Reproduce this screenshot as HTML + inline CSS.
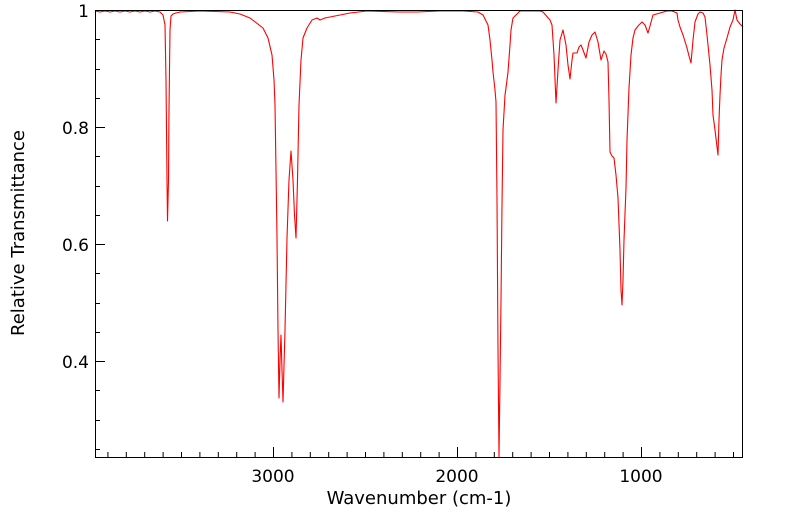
<!DOCTYPE html>
<html><head><style>
body{margin:0;background:#fff;}
svg{display:block;font-family:"DejaVu Sans","Liberation Sans",sans-serif;}
</style></head><body>
<svg width="799" height="516" viewBox="0 0 799 516">
<rect width="799" height="516" fill="#fff"/>
<polyline fill="none" stroke="#ff0000" stroke-width="1.1" stroke-linejoin="round" points="
95,11 100,12 105,11 110,12 115,11 120,12 125,11 130,12 135,11 140,12 145,11 150,12 155,11 160,12 163,15 165,25 166,80 167,180 167.5,221 168.5,180 169,110 170,30 171,16 173,14 176,13 180,12 200,11 230,12 240,14 250,18 263,28 268,38 272,55 274,80 275,105 276,170 277,238 278,330 279,398 280,360 281,335 282,370 283,402 285,330 287,238 289,180 291,151 293,180 294.5,215 296,238 297.5,180 299,105 301,60 303,38 307,28 312,20 317,18 320,20 325,18 330,17 350,13 367,11 400,12 417,12 440,11 463,11 478,12 483,15 488,25 490,40 492,60 493,72 495,90 496,102 497,200 498,350 499,457 500,380 501,300 502,205 503,130 505,95 506,88 508,72 510,45 511,30 513,18 520,11 530,11 540,11 543,12 550,20 552,25 554,55 556,103 558,70 560,40 563,30 566,45 568,65 570,79 572,60 573,53 577,53 579,47 581,45 583,50 586,58 589,42 592,35 595,32 598,42 601,60 603,54 604,51 606,54 608,62 609,100 610,152 612,156 614,158 616,175 618,198 620,250 621,290 622,305 623,280 624,240 626,188 627,140 629,88 631,55 633,38 635,30 638,26 642,22 645,25 648,33 650,26 653,15 660,13 667,11 672,11 677,13 678,20 680,27 683,35 687,48 689,56 691,63 693,40 695,22 698,14 700,12 703,13 705,17 707,35 710,65 712,90 713,115 715,130 718,155 719,120 720,95 721,75 722,60 724,48 727,38 730,27 733,20 735,10 736,15 737,20 740,24 743,27"/>
<rect x="95.5" y="10.5" width="647" height="447" stroke="#000" stroke-width="1" fill="none"/>
<g stroke="#000" stroke-width="1">
<line x1="95" y1="10.5" x2="105" y2="10.5"/>
<line x1="95" y1="127.5" x2="105" y2="127.5"/>
<line x1="95" y1="244.5" x2="105" y2="244.5"/>
<line x1="95" y1="361.5" x2="105" y2="361.5"/>
<line x1="95" y1="39.5" x2="100" y2="39.5"/>
<line x1="95" y1="69.5" x2="100" y2="69.5"/>
<line x1="95" y1="98.5" x2="100" y2="98.5"/>
<line x1="95" y1="156.5" x2="100" y2="156.5"/>
<line x1="95" y1="186.5" x2="100" y2="186.5"/>
<line x1="95" y1="215.5" x2="100" y2="215.5"/>
<line x1="95" y1="273.5" x2="100" y2="273.5"/>
<line x1="95" y1="303.5" x2="100" y2="303.5"/>
<line x1="95" y1="332.5" x2="100" y2="332.5"/>
<line x1="95" y1="390.5" x2="100" y2="390.5"/>
<line x1="95" y1="420.5" x2="100" y2="420.5"/>
<line x1="95" y1="449.5" x2="100" y2="449.5"/>
<line x1="273.5" y1="447" x2="273.5" y2="457"/>
<line x1="457.5" y1="447" x2="457.5" y2="457"/>
<line x1="641.5" y1="447" x2="641.5" y2="457"/>
</g>
<g font-size="17" fill="#000">
<text x="89" y="17" text-anchor="end">1</text>
<text x="89" y="134" text-anchor="end">0.8</text>
<text x="89" y="251" text-anchor="end">0.6</text>
<text x="89" y="368" text-anchor="end">0.4</text>
<text x="273" y="482" text-anchor="middle">3000</text>
<text x="457" y="482" text-anchor="middle">2000</text>
<text x="641" y="482" text-anchor="middle">1000</text>
<text x="419" y="504" text-anchor="middle" font-size="18">Wavenumber (cm-1)</text>
<text transform="translate(24,233) rotate(-90)" text-anchor="middle" font-size="18">Relative Transmittance</text>
</g>
<g stroke="#000" stroke-width="1">
<line x1="107.9" y1="452" x2="107.9" y2="457"/><line x1="126.3" y1="452" x2="126.3" y2="457"/><line x1="144.7" y1="452" x2="144.7" y2="457"/><line x1="163.1" y1="452" x2="163.1" y2="457"/><line x1="181.5" y1="452" x2="181.5" y2="457"/><line x1="199.9" y1="452" x2="199.9" y2="457"/><line x1="218.3" y1="452" x2="218.3" y2="457"/><line x1="236.7" y1="452" x2="236.7" y2="457"/><line x1="255.1" y1="452" x2="255.1" y2="457"/>
<line x1="291.9" y1="452" x2="291.9" y2="457"/><line x1="310.3" y1="452" x2="310.3" y2="457"/><line x1="328.7" y1="452" x2="328.7" y2="457"/><line x1="347.1" y1="452" x2="347.1" y2="457"/><line x1="365.5" y1="452" x2="365.5" y2="457"/><line x1="383.9" y1="452" x2="383.9" y2="457"/><line x1="402.3" y1="452" x2="402.3" y2="457"/><line x1="420.7" y1="452" x2="420.7" y2="457"/><line x1="439.1" y1="452" x2="439.1" y2="457"/>
<line x1="475.9" y1="452" x2="475.9" y2="457"/><line x1="494.3" y1="452" x2="494.3" y2="457"/><line x1="512.7" y1="452" x2="512.7" y2="457"/><line x1="531.1" y1="452" x2="531.1" y2="457"/><line x1="549.5" y1="452" x2="549.5" y2="457"/><line x1="567.9" y1="452" x2="567.9" y2="457"/><line x1="586.3" y1="452" x2="586.3" y2="457"/><line x1="604.7" y1="452" x2="604.7" y2="457"/><line x1="623.1" y1="452" x2="623.1" y2="457"/>
<line x1="659.9" y1="452" x2="659.9" y2="457"/><line x1="678.3" y1="452" x2="678.3" y2="457"/><line x1="696.7" y1="452" x2="696.7" y2="457"/><line x1="715.1" y1="452" x2="715.1" y2="457"/><line x1="733.5" y1="452" x2="733.5" y2="457"/>
</g>
</svg>
</body></html>
